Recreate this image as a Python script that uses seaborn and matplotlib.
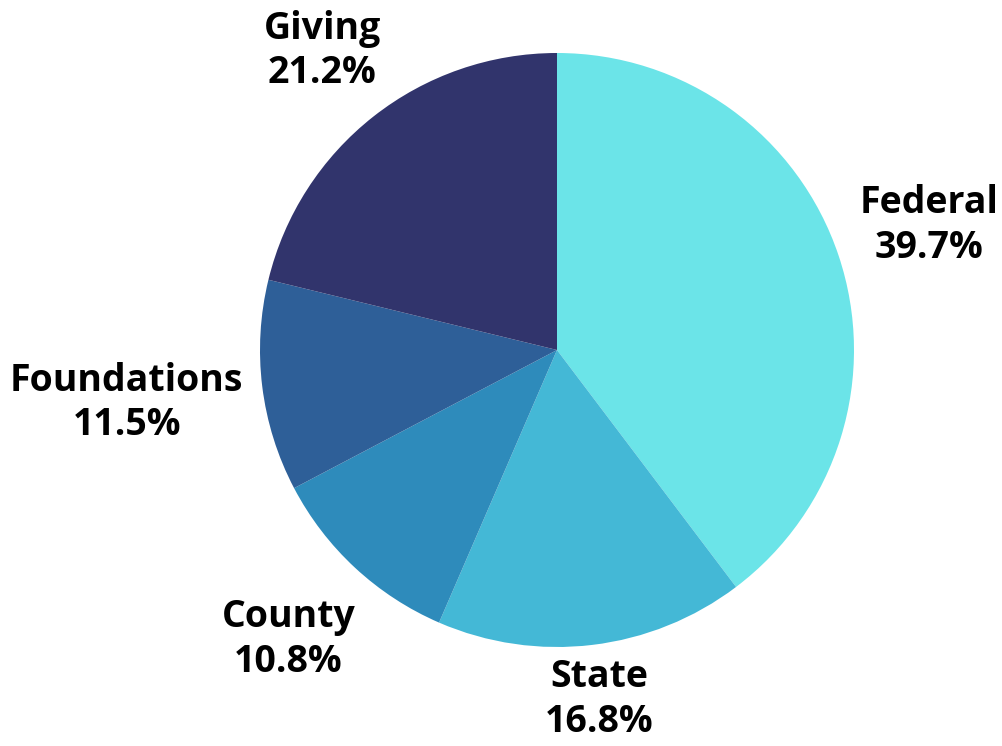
import numpy as np
import matplotlib
matplotlib.use("Agg")
import matplotlib.pyplot as plt
import seaborn as sns

# Funding sources (share of total, %)
sources = ["Federal", "State", "County", "Foundations", "Giving"]
shares = [39.7, 16.8, 10.8, 11.5, 21.2]
colors = ["#6be4e8", "#44b8d6", "#2e8bbb", "#2e5f98", "#31346c"]
label_dist = [1.32, 1.185, 1.33, 1.46, 1.28]

sns.set_theme(style="white")
plt.rcParams["font.family"] = ["Open Sans", "DejaVu Sans"]

fig = plt.figure(figsize=(10.02, 7.46), dpi=100)
ax = fig.add_axes([260 / 1002, 99 / 746, 594 / 1002, 594 / 746])

wedges, _ = ax.pie(shares, colors=colors, startangle=90, counterclock=False,
                   radius=1.0, wedgeprops={"linewidth": 0})
ax.set_xlim(-1, 1)
ax.set_ylim(-1, 1)
ax.set_aspect("equal")

# labels at the middle angle of each wedge
for w, name, val, d in zip(wedges, sources, shares, label_dist):
    mid = np.deg2rad((w.theta1 + w.theta2) / 2)
    ax.text(d * np.cos(mid), d * np.sin(mid), f"{name}\n{val:.1f}%",
            ha="center", va="center", fontsize=27, fontweight="bold",
            color="#000000", linespacing=1.22, clip_on=False)

ax.axis("off")
fig.savefig("out.png", dpi=100)
